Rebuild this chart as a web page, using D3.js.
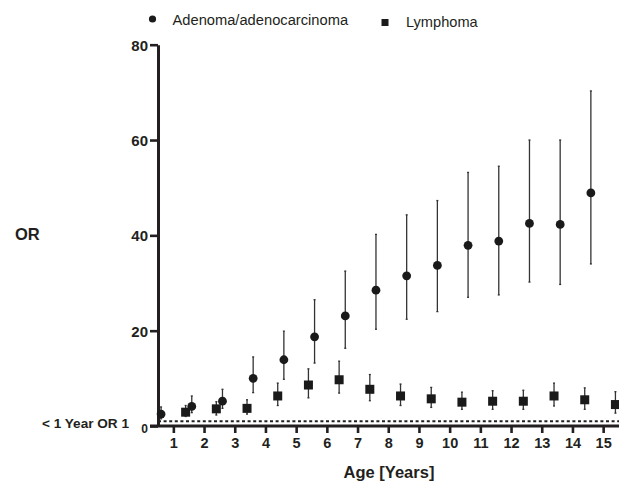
<!DOCTYPE html>
<html>
<head>
<meta charset="utf-8">
<script src="https://cdn.jsdelivr.net/npm/d3@7/dist/d3.min.js"></script>
<style>
  html, body { margin: 0; padding: 0; background: #fff; }
  svg { display: block; }
  text { font-family: "Liberation Sans", Arial, Helvetica, sans-serif; fill: #231f20; }
</style>
</head>
<body>
<svg id="chart" width="619" height="483"></svg>
<script>
// ---- data ----
const ages = [1, 2, 3, 4, 5, 6, 7, 8, 9, 10, 11, 12, 13, 14, 15];
const adenomaOR = [2.5, 4.1, 5.2, 10.0, 13.9, 18.7, 23.1, 28.5, 31.5, 33.7, 37.9, 38.8, 42.5, 42.3, 48.9];
const adenomaLo = [1.5, 2.8, 3.7, 7.0, 9.8, 13.2, 16.3, 20.3, 22.4, 24.0, 27.0, 27.5, 30.2, 29.7, 34.0];
const adenomaHi = [4.0, 6.3, 7.7, 14.5, 19.9, 26.5, 32.5, 40.2, 44.3, 47.3, 53.2, 54.5, 60.0, 60.0, 70.3];
const lymphomaOR = [2.9, 3.6, 3.7, 6.3, 8.6, 9.7, 7.7, 6.3, 5.7, 5.0, 5.2, 5.2, 6.3, 5.5, 4.5];
const lymphomaLo = [2.0, 2.3, 2.5, 4.3, 5.9, 6.9, 5.3, 4.3, 3.9, 3.5, 3.5, 3.5, 4.2, 3.5, 2.7];
const lymphomaHi = [4.3, 5.1, 5.5, 9.0, 12.0, 13.6, 10.8, 8.8, 8.1, 7.1, 7.4, 7.5, 9.0, 8.0, 7.2];
const yTicks = [0, 20, 40, 60, 80];
const xTicks = [1, 2, 3, 4, 5, 6, 7, 8, 9, 10, 11, 12, 13, 14, 15];
const seriesNames = ["Adenoma/adenocarcinoma", "Lymphoma"];
const referenceOR = 1;

// ---- layout ----
const W = 619, H = 483;
const svg = d3.select("#chart");
const x = d3.scaleLinear().domain([0.5, 15.5]).range([158, 618.5]);
const y = d3.scaleLinear().domain([0, 80]).range([426, 44.7]);
const ink = "#231f20";
const offsetA = -0.4, offsetL = 0.4;

// reference dashed line (OR = 1)
svg.append("line")
  .attr("x1", x.range()[0]).attr("x2", W)
  .attr("y1", y(referenceOR)).attr("y2", y(referenceOR))
  .attr("stroke", ink).attr("stroke-width", 2)
  .attr("stroke-dasharray", "3,2.6");

// Y axis
const yAxis = d3.axisLeft(y).tickValues(yTicks).tickSize(8).tickSizeOuter(0).tickPadding(2);
const gy = svg.append("g").attr("transform", `translate(${x.range()[0]},0)`).call(yAxis);
gy.select(".domain").attr("stroke", ink).attr("stroke-width", 3);
gy.selectAll(".tick line").attr("stroke", ink).attr("stroke-width", 2.6);
gy.selectAll(".tick text")
  .style("font-size", d => d === 0 ? "12px" : "15px")
  .style("font-weight", "bold")
  .attr("fill", ink)
  .attr("dy", d => d === 0 ? "0.55em" : "0.36em");

// X axis
const xAxis = d3.axisBottom(x).tickValues(xTicks).tickSize(7).tickSizeOuter(0).tickPadding(5);
const gx = svg.append("g").attr("transform", `translate(0,${y(0)})`).call(xAxis);
gx.select(".domain").remove();
gx.selectAll(".tick line").attr("stroke", ink).attr("stroke-width", 2.6);
gx.selectAll(".tick text")
  .style("font-size", "14.5px")
  .style("font-weight", "bold")
  .attr("fill", ink);
svg.append("line")
  .attr("x1", x.range()[0] - 8).attr("x2", W)
  .attr("y1", y(0)).attr("y2", y(0))
  .attr("stroke", ink).attr("stroke-width", 3);

// Axis titles
svg.append("text").attr("x", 15).attr("y", 240)
  .style("font-size", "16.5px").style("font-weight", "bold").text("OR");
svg.append("text").attr("x", 389).attr("y", 478).attr("text-anchor", "middle")
  .style("font-size", "16.5px").style("font-weight", "bold").text("Age [Years]");
svg.append("text").attr("x", 129).attr("y", 427.5).attr("text-anchor", "end")
  .style("font-size", "13.6px").style("font-weight", "bold").text("< 1 Year OR 1");

// error bars helper
function errorBars(cls, offset, lo, hi) {
  const g = svg.append("g").attr("class", cls);
  const d = ages.map((a, i) => ({ a, lo: lo[i], hi: hi[i] }));
  g.selectAll("line.v").data(d).join("line").attr("class", "v")
    .attr("x1", p => x(p.a + offset)).attr("x2", p => x(p.a + offset))
    .attr("y1", p => y(p.lo)).attr("y2", p => y(p.hi))
    .attr("stroke", "#333").attr("stroke-width", 1.3);
  ["lo", "hi"].forEach(k => {
    g.selectAll("line.c" + k).data(d).join("line").attr("class", "c" + k)
      .attr("x1", p => x(p.a + offset) - 1).attr("x2", p => x(p.a + offset) + 1)
      .attr("y1", p => y(p[k])).attr("y2", p => y(p[k]))
      .attr("stroke", "#333").attr("stroke-width", 1.3);
  });
}
errorBars("errA", offsetA, adenomaLo, adenomaHi);
errorBars("errL", offsetL, lymphomaLo, lymphomaHi);

// markers
svg.append("g").selectAll("circle").data(ages).join("circle")
  .attr("cx", (a) => x(a + offsetA))
  .attr("cy", (a, i) => y(adenomaOR[i]))
  .attr("r", 4.4).attr("fill", "#1a1a1a");
const S = 9;
svg.append("g").selectAll("rect").data(ages).join("rect")
  .attr("x", (a) => x(a + offsetL) - S / 2)
  .attr("y", (a, i) => y(lymphomaOR[i]) - S / 2)
  .attr("width", S).attr("height", S).attr("fill", "#1a1a1a");

// legend
svg.append("circle").attr("cx", 152.5).attr("cy", 19).attr("r", 3.6).attr("fill", "#1a1a1a");
svg.append("text").attr("x", 172.5).attr("y", 25)
  .style("font-size", "14.7px").text(seriesNames[0]);
svg.append("rect").attr("x", 381.5).attr("y", 19).attr("width", 7).attr("height", 7).attr("fill", "#1a1a1a");
svg.append("text").attr("x", 406).attr("y", 27)
  .style("font-size", "14.6px").text(seriesNames[1]);
</script>
</body>
</html>
